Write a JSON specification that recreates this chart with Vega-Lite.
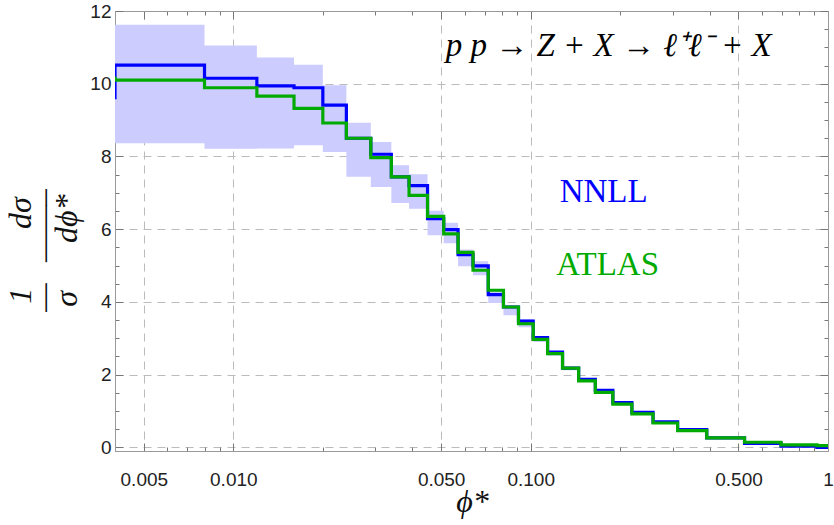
{
  "$schema": "https://vega.github.io/schema/vega-lite/v6.json",
  "width": 713,
  "height": 440,
  "autosize": "none",
  "padding": {"left": 115, "top": 11, "right": 6, "bottom": 74},
  "background": "white",
  "config": {
    "view": {"stroke": "#999999", "strokeWidth": 1},
    "axis": {
      "domainColor": "#999999",
      "tickColor": "#777777",
      "labelFont": "Liberation Sans",
      "labelFontSize": 19,
      "labelColor": "#222222",
      "labelOverlap": false,
      "labelFlush": false,
      "titleColor": "#111111",
      "titleFontWeight": "normal"
    }
  },
  "datasets": {
    "hist": [
      {"phi": 0.004, "nnll": 9.57, "atlas": 10.2, "lo": 7.8, "hi": 11.6},
      {"phi": 0.008, "nnll": 10.51, "atlas": 10.10, "lo": 8.36, "hi": 11.62},
      {"phi": 0.012, "nnll": 10.15, "atlas": 9.89, "lo": 8.21, "hi": 11.05},
      {"phi": 0.016, "nnll": 9.94, "atlas": 9.66, "lo": 8.22, "hi": 10.72},
      {"phi": 0.020, "nnll": 9.89, "atlas": 9.32, "lo": 8.31, "hi": 10.52},
      {"phi": 0.024, "nnll": 9.41, "atlas": 8.92, "lo": 8.12, "hi": 9.96},
      {"phi": 0.029, "nnll": 8.50, "atlas": 8.50, "lo": 7.44, "hi": 8.93},
      {"phi": 0.034, "nnll": 8.06, "atlas": 7.97, "lo": 7.16, "hi": 8.40},
      {"phi": 0.039, "nnll": 7.44, "atlas": 7.44, "lo": 6.72, "hi": 7.76},
      {"phi": 0.045, "nnll": 7.20, "atlas": 6.93, "lo": 6.56, "hi": 7.51},
      {"phi": 0.051, "nnll": 6.29, "atlas": 6.35, "lo": 5.83, "hi": 6.51},
      {"phi": 0.057, "nnll": 5.99, "atlas": 5.87, "lo": 5.61, "hi": 6.18},
      {"phi": 0.064, "nnll": 5.30, "atlas": 5.36, "lo": 4.98, "hi": 5.44},
      {"phi": 0.072, "nnll": 4.99, "atlas": 4.87, "lo": 4.73, "hi": 5.12},
      {"phi": 0.081, "nnll": 4.20, "atlas": 4.32, "lo": 3.97, "hi": 4.34},
      {"phi": 0.091, "nnll": 3.86, "atlas": 3.86, "lo": 3.63, "hi": 3.90},
      {"phi": 0.102, "nnll": 3.47, "atlas": 3.40, "lo": 3.30, "hi": 3.52},
      {"phi": 0.114, "nnll": 3.02, "atlas": 2.97, "lo": 2.90, "hi": 3.06},
      {"phi": 0.128, "nnll": 2.62, "atlas": 2.58, "lo": 2.52, "hi": 2.65},
      {"phi": 0.145, "nnll": 2.18, "atlas": 2.18, "lo": 2.12, "hi": 2.21},
      {"phi": 0.165, "nnll": 1.87, "atlas": 1.83, "lo": 1.82, "hi": 1.90},
      {"phi": 0.189, "nnll": 1.57, "atlas": 1.51, "lo": 1.53, "hi": 1.59},
      {"phi": 0.219, "nnll": 1.23, "atlas": 1.19, "lo": 1.20, "hi": 1.25},
      {"phi": 0.258, "nnll": 0.96, "atlas": 0.92, "lo": 0.94, "hi": 0.98},
      {"phi": 0.312, "nnll": 0.70, "atlas": 0.67, "lo": 0.68, "hi": 0.72},
      {"phi": 0.391, "nnll": 0.49, "atlas": 0.46, "lo": 0.47, "hi": 0.50},
      {"phi": 0.524, "nnll": 0.26, "atlas": 0.26, "lo": 0.25, "hi": 0.27},
      {"phi": 0.695, "nnll": 0.11, "atlas": 0.14, "lo": 0.10, "hi": 0.12},
      {"phi": 0.918, "nnll": 0.03, "atlas": 0.07, "lo": 0.02, "hi": 0.04},
      {"phi": 1.153, "nnll": 0.00, "atlas": 0.05, "lo": 0.00, "hi": 0.01}
    ],
    "eq": [
      {"label": "p p → Z + X → ℓ⁺ℓ⁻ + X", "phi": 0.183, "val": 11.05}
    ],
    "names": [
      {"label": "NNLL", "phi": 0.176, "val": 7.02},
      {"label": "ATLAS", "phi": 0.1816, "val": 5.02}
    ]
  },
  "layer": [
    {
      "data": {"name": "hist"},
      "mark": {"type": "area", "interpolate": "step-before", "color": "#ccccff", "opacity": 1, "clip": true},
      "encoding": {
        "x": {
          "field": "phi", "type": "quantitative",
          "scale": {"type": "log", "domain": [0.004, 1], "nice": false},
          "axis": {
            "orient": "bottom",
            "values": [0.004, 0.005, 0.006, 0.007, 0.008, 0.009, 0.01, 0.02, 0.03, 0.04, 0.05, 0.06, 0.07, 0.08, 0.09, 0.1, 0.2, 0.3, 0.4, 0.5, 0.6, 0.7, 0.8, 0.9, 1],
            "labelExpr": "indexof([0.005, 0.01, 0.05, 0.1, 0.5], datum.value) >= 0 ? format(datum.value, '.3f') : (datum.value == 1 ? '1' : '')",
            "tickSize": {"condition": {"test": "indexof([0.005, 0.01, 0.05, 0.1, 0.5, 1], datum.value) >= 0", "value": -8}, "value": -4},
            "grid": true,
            "gridOpacity": {"condition": {"test": "indexof([0.005, 0.01, 0.05, 0.1, 0.5], datum.value) >= 0", "value": 1}, "value": 0},
            "gridDash": [8, 6],
            "gridColor": "#bbbbbb",
            "labelPadding": 27,
            "title": "ϕ*",
            "titleFont": "Liberation Serif",
            "titleFontSize": 32,
            "titleFontStyle": "italic",
            "titleBaseline": "middle",
            "titleX": 357,
            "titleY": 50
          }
        },
        "y": {
          "field": "lo", "type": "quantitative",
          "scale": {"domain": [-0.1, 12], "nice": false, "zero": false},
          "axis": {
            "orient": "left",
            "values": [0, 0.5, 1, 1.5, 2, 2.5, 3, 3.5, 4, 4.5, 5, 5.5, 6, 6.5, 7, 7.5, 8, 8.5, 9, 9.5, 10, 10.5, 11, 11.5, 12],
            "labelExpr": "datum.value % 2 == 0 ? format(datum.value, 'd') : ''",
            "tickSize": {"condition": {"test": "datum.value % 2 == 0", "value": -8}, "value": -4},
            "grid": true,
            "gridOpacity": {"condition": {"test": "datum.value % 2 == 0", "value": 1}, "value": 0},
            "gridDash": [8, 6],
            "gridColor": "#bbbbbb",
            "labelPadding": 12,
            "title": ["\u20051\u2003\u2002\u2004dσ\u2002\u2004", "—\u2002\u2006——–\u2004", "\u2006σ\u2003\u2002dϕ*\u2002\u2006"],
            "titleFont": "Liberation Serif",
            "titleFontSize": 32,
            "titleFontStyle": "italic",
            "titleLineHeight": 23,
            "titleAngle": 270,
            "titleAlign": "center",
            "titleBaseline": "middle",
            "titleX": -95,
            "titleY": 239
          }
        },
        "y2": {"field": "hi"}
      }
    },
    {
      "data": {"name": "hist"},
      "mark": {"type": "line", "interpolate": "step-before", "color": "#0000ff", "strokeWidth": 3.2, "clip": true},
      "encoding": {
        "x": {
          "field": "phi", "type": "quantitative",
          "axis": {
            "orient": "top",
            "values": [0.004, 0.005, 0.006, 0.007, 0.008, 0.009, 0.01, 0.02, 0.03, 0.04, 0.05, 0.06, 0.07, 0.08, 0.09, 0.1, 0.2, 0.3, 0.4, 0.5, 0.6, 0.7, 0.8, 0.9, 1],
            "labels": false,
            "grid": false,
            "title": null,
            "tickSize": {"condition": {"test": "indexof([0.005, 0.01, 0.05, 0.1, 0.5, 1], datum.value) >= 0", "value": -8}, "value": -4}
          }
        },
        "y": {
          "field": "nnll", "type": "quantitative",
          "axis": {
            "orient": "right",
            "values": [0, 0.5, 1, 1.5, 2, 2.5, 3, 3.5, 4, 4.5, 5, 5.5, 6, 6.5, 7, 7.5, 8, 8.5, 9, 9.5, 10, 10.5, 11, 11.5, 12],
            "labels": false,
            "grid": false,
            "title": null,
            "tickSize": {"condition": {"test": "datum.value % 2 == 0", "value": -8}, "value": -4}
          }
        }
      }
    },
    {
      "data": {"name": "hist"},
      "mark": {"type": "line", "interpolate": "step-before", "color": "#00aa00", "strokeWidth": 3.2, "clip": true},
      "encoding": {
        "x": {"field": "phi", "type": "quantitative", "axis": null},
        "y": {"field": "atlas", "type": "quantitative", "axis": null}
      }
    },
    {
      "data": {"name": "eq"},
      "mark": {"type": "text", "font": "Liberation Serif", "fontSize": 33, "fontStyle": "italic", "color": "#000000", "align": "center", "baseline": "middle"},
      "encoding": {
        "x": {"field": "phi", "type": "quantitative", "axis": null},
        "y": {"field": "val", "type": "quantitative", "axis": null},
        "text": {"field": "label"}
      }
    },
    {
      "data": {"name": "names"},
      "mark": {"type": "text", "font": "Liberation Serif", "fontSize": 33, "align": "center", "baseline": "middle"},
      "encoding": {
        "x": {"field": "phi", "type": "quantitative", "axis": null},
        "y": {"field": "val", "type": "quantitative", "axis": null},
        "text": {"field": "label"},
        "color": {"field": "label", "type": "nominal", "scale": {"domain": ["NNLL", "ATLAS"], "range": ["#0000ff", "#00aa00"]}, "legend": null}
      }
    }
  ],
  "resolve": {"axis": {"x": "independent", "y": "independent"}}
}
